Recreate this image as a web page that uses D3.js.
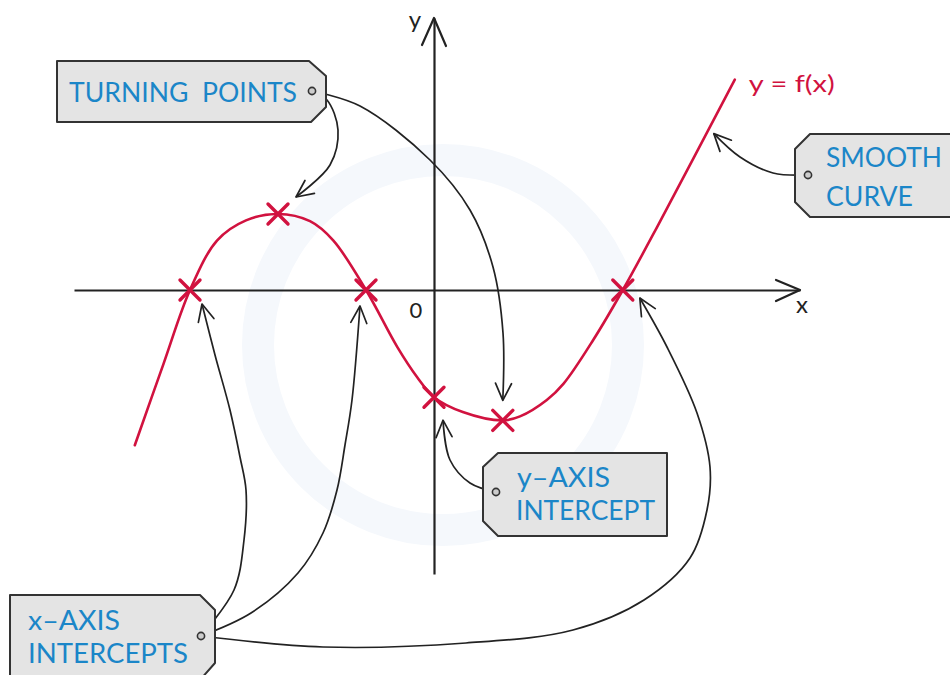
<!DOCTYPE html>
<html>
<head>
<meta charset="utf-8">
<script src="https://cdnjs.cloudflare.com/ajax/libs/d3/7.8.5/d3.min.js"></script>
<style>
  body { margin: 0; background: #fff; }
  text { font-family: Lato, "Open Sans", sans-serif; }
</style>
</head>
<body>
<div id="chart"></div>
<script>
// sketch of y = f(x) (x, y in graph units)
var curveX = [-3.74, -3.38, -3.05, -2.71, -2.35, -1.95, -1.55, -1.26, -0.85,
              -0.46, -0.21, 0, 0.36, 0.86, 1.075, 1.41, 1.62, 1.99, 2.36, 2.79, 3.76];
var curveY = [-1.94, -0.92, 0, 0.62, 0.87, 0.95, 0.86, 0.62, 0,
              -0.71, -1.09, -1.34, -1.525, -1.63, -1.58, -1.375, -1.17, -0.625, 0, 0.79, 2.63];

// crosses: x-intercepts, turning points, y-intercept
var keyNames = ["root1", "max", "root2", "yint", "min", "root3"];
var keyX = [-3.05, -1.95, -0.85, 0, 0.86, 2.36];
var keyY = [0, 0.95, 0, -1.34, -1.63, 0];

var tagLabels = [
    ["TURNING  POINTS"],
    ["SMOOTH", "CURVE"],
    ["y\u2013AXIS", "INTERCEPT"],
    ["x\u2013AXIS", "INTERCEPTS"]
];
var curveLabel = "y = f(x)";
var axisLabels = ["x", "y", "0"];

var width = 950,
    height = 675,
    red = "#d1123f",
    blue = "#1b86c8",
    ink = "#222";

var xScale = d3.scaleLinear().domain([-4.5, 4.575]).range([74, 800]);
var yScale = d3.scaleLinear().domain([-3.55, 3.4]).range([574, 18]);

var svg = d3.select("#chart").append("svg")
    .attr("width", width)
    .attr("height", height);

// arrow marker for the callouts
svg.append("defs").append("marker")
    .attr("id", "head")
    .attr("markerUnits", "userSpaceOnUse")
    .attr("viewBox", "-20 -12 24 24")
    .attr("markerWidth", 24)
    .attr("markerHeight", 24)
    .attr("refX", 0)
    .attr("refY", 0)
    .attr("orient", "auto")
    .append("path")
    .attr("d", "M-17,-8L0,0L-17,8")
    .attr("fill", "none")
    .attr("stroke", ink)
    .attr("stroke-width", 1.7)
    .attr("stroke-linecap", "round")
    .attr("stroke-linejoin", "round");

// faint logo ring in the background
svg.append("circle")
    .attr("cx", 443).attr("cy", 345).attr("r", 185)
    .attr("fill", "none")
    .attr("stroke", "#f5f8fc")
    .attr("stroke-width", 32);

// axes (no ticks, just the lines)
svg.append("g")
    .attr("transform", "translate(0," + yScale(0) + ")")
    .call(d3.axisBottom(xScale).tickValues([]).tickSizeOuter(0));
svg.append("g")
    .attr("transform", "translate(" + xScale(0) + ",0)")
    .call(d3.axisLeft(yScale).tickValues([]).tickSizeOuter(0));
svg.selectAll(".domain").attr("stroke", ink).attr("stroke-width", 2.2);

var xEnd = xScale.range()[1], yEnd = yScale.range()[1];
svg.append("path")
    .attr("d", "M" + (xEnd - 24) + "," + (yScale(0) - 10) + "L" + xEnd + "," + yScale(0) + "L" + (xEnd - 24) + "," + (yScale(0) + 11))
    .attr("fill", "none").attr("stroke", ink).attr("stroke-width", 2.2)
    .attr("stroke-linecap", "round").attr("stroke-linejoin", "round");
svg.append("path")
    .attr("d", "M" + (xScale(0) - 12) + "," + (yEnd + 27) + "L" + xScale(0) + "," + yEnd + "L" + (xScale(0) + 12) + "," + (yEnd + 28))
    .attr("fill", "none").attr("stroke", ink).attr("stroke-width", 2.2)
    .attr("stroke-linecap", "round").attr("stroke-linejoin", "round");

svg.append("text").text(axisLabels[0])
    .attr("x", xEnd + 2).attr("y", yScale(0) + 23)
    .attr("text-anchor", "middle").attr("font-size", 24).attr("fill", ink);
svg.append("text").text(axisLabels[1])
    .attr("x", xScale(0) - 19).attr("y", yEnd + 10)
    .attr("text-anchor", "middle").attr("font-size", 24).attr("fill", ink);
svg.append("text").text(axisLabels[2])
    .attr("x", xScale(0) - 18).attr("y", yScale(0) + 28)
    .attr("text-anchor", "middle").attr("font-size", 22).attr("fill", ink);

// the function
var curveData = curveX.map(function(d, i) { return { x: d, y: curveY[i] }; });
var line = d3.line()
    .x(function(d) { return xScale(d.x); })
    .y(function(d) { return yScale(d.y); })
    .curve(d3.curveCatmullRom.alpha(0.5));

svg.append("path")
    .datum(curveData)
    .attr("d", line)
    .attr("fill", "none")
    .attr("stroke", red)
    .attr("stroke-width", 2.6)
    .attr("stroke-linecap", "round");

var last = curveData[curveData.length - 1];
svg.append("text").text(curveLabel)
    .attr("x", xScale(last.x) + 14).attr("y", yScale(last.y) + 12)
    .attr("font-size", 24).attr("fill", red)
    .attr("textLength", 86).attr("lengthAdjust", "spacingAndGlyphs");

// crosses
var keyData = keyX.map(function(d, i) { return { name: keyNames[i], x: d, y: keyY[i] }; });
var keyByName = {};
keyData.forEach(function(d) { keyByName[d.name] = d; });

svg.selectAll(".cross")
    .data(keyData)
    .enter().append("path")
    .attr("class", "cross")
    .attr("transform", function(d) { return "translate(" + xScale(d.x) + "," + yScale(d.y) + ")"; })
    .attr("d", "M-10,-10L10,10M-10,10L10,-10")
    .attr("stroke", red)
    .attr("stroke-width", 3.4)
    .attr("stroke-linecap", "round");

// callout tags: outline, hole, text lines [x, baseline, length]
var tags = [
    { shape: [[57,61],[309,61],[326,76],[326,107],[311,122],[57,122]], hole: [312,91],
      lines: [[69,102,228]] },
    { shape: [[795,149],[810,134],[960,134],[960,217],[810,217],[795,202]], hole: [808,175],
      lines: [[826,167,116],[826,206,87]] },
    { shape: [[483,467],[498,453],[667,453],[667,536],[498,536],[483,521]], hole: [496,492],
      lines: [[517,487,93],[516,520,139]] },
    { shape: [[10,595],[200,595],[215,610],[215,663],[200,680],[10,680]], hole: [201,636],
      lines: [[28,630,92],[28,663,160]] }
];

// callout arrows: from a tag hole, through a few waypoints, to a key point (+ offset)
var arrows = [
    { tag: 0, via: [[327,100],[338,130],[330,165]], target: "max", off: [18,-17] },
    { tag: 0, via: [[360,106],[430,160],[470,210],[493,267],[503,333]], target: "min", off: [0,-20] },
    { tag: 1, via: [[773,173],[740,157]], target: null, off: [-21,54] },
    { tag: 2, via: [[470,483],[450,460]], target: "yint", off: [9,23] },
    { tag: 3, via: [[234,590],[244,540],[246,490],[240,457],[230,410],[215,355]], target: "root1", off: [12,14] },
    { tag: 3, via: [[251,613],[298,573],[323,533],[337,490],[345,445],[352,400]], target: "root2", off: [-6,16] },
    { tag: 3, via: [[323,647],[466,643],[573,630],[644,600],[690,558],[707,510],[710,467],[697,413],[667,347]], target: "root3", off: [17,8] }
];

var arrowLine = d3.line().curve(d3.curveCatmullRom.alpha(0.5));

svg.selectAll(".arrow")
    .data(arrows)
    .enter().append("path")
    .attr("class", "arrow")
    .attr("d", function(d) {
        var t = d.target ? keyByName[d.target] : last;
        var tip = [xScale(t.x) + d.off[0], yScale(t.y) + d.off[1]];
        return arrowLine([tags[d.tag].hole].concat(d.via, [tip]));
    })
    .attr("fill", "none")
    .attr("stroke", ink)
    .attr("stroke-width", 1.7)
    .attr("marker-end", "url(#head)");

var tagG = svg.selectAll(".tag")
    .data(tags)
    .enter().append("g")
    .attr("class", "tag");

tagG.append("path")
    .attr("d", function(d) { return "M" + d.shape.join("L") + "Z"; })
    .attr("fill", "#e4e4e4")
    .attr("stroke", "#333")
    .attr("stroke-width", 2)
    .attr("stroke-linejoin", "round");

tagG.append("circle")
    .attr("cx", function(d) { return d.hole[0]; })
    .attr("cy", function(d) { return d.hole[1]; })
    .attr("r", 3.6)
    .attr("fill", "#ccc")
    .attr("stroke", "#333")
    .attr("stroke-width", 1.6);

tagG.each(function(d, i) {
    d3.select(this).selectAll("text")
        .data(d.lines)
        .enter().append("text")
        .text(function(l, j) { return tagLabels[i][j]; })
        .attr("x", function(l) { return l[0]; })
        .attr("y", function(l) { return l[1]; })
        .attr("textLength", function(l) { return l[2]; })
        .attr("lengthAdjust", "spacingAndGlyphs")
        .style("white-space", "pre")
        .attr("font-size", 27)
        .attr("fill", blue);
});

// the hole sits on top of the arrow tails
svg.selectAll(".tag circle").raise();
</script>
</body>
</html>
